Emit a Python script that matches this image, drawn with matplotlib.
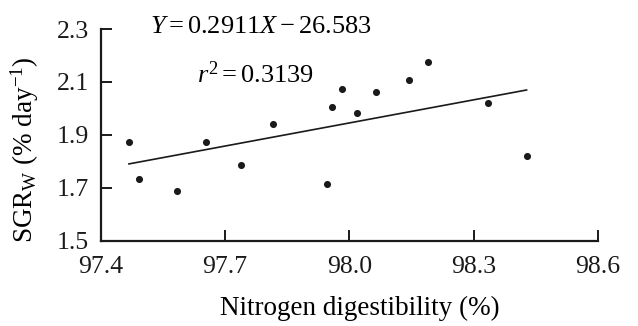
import matplotlib
matplotlib.use("Agg")
import matplotlib.pyplot as plt
import numpy as np

plt.rcParams['font.family'] = ['Liberation Serif', 'DejaVu Serif']
plt.rcParams['mathtext.fontset'] = 'custom'
plt.rcParams['mathtext.rm'] = 'Liberation Serif'
plt.rcParams['mathtext.it'] = 'Liberation Serif:italic'
plt.rcParams['mathtext.bf'] = 'Liberation Serif:bold'

# nitrogen digestibility (%) vs SGR_W (% day^-1)
n_dig = [97.468, 97.492, 97.583, 97.653, 97.739, 97.816, 97.945, 97.959,
         97.983, 98.018, 98.064, 98.144, 98.189, 98.334, 98.428]
sgr_w = [1.873, 1.733, 1.687, 1.873, 1.787, 1.940, 1.713, 2.006,
         2.073, 1.981, 2.061, 2.107, 2.174, 2.022, 1.820]

# regression reported on the chart
slope = 0.2911
intercept = -26.583
r2 = 0.3139

xticks = [97.4, 97.7, 98.0, 98.3, 98.6]
yticks = [1.5, 1.7, 1.9, 2.1, 2.3]

fig = plt.figure(figsize=(6.38, 3.26), dpi=100)
ax = fig.add_axes([0.158, 0.262, 0.779, 0.649])

ax.scatter(n_dig, sgr_w, s=26, color='#1a1a1a', zorder=3, linewidths=0)

xl = np.array([min(n_dig), max(n_dig)])
ax.plot(xl, slope * xl + intercept, color='#1a1a1a', lw=1.2)

ax.set_xlim(97.4, 98.6)
ax.set_ylim(1.5, 2.3)
ax.set_xticks(xticks)
ax.set_xticklabels(['%.1f' % v for v in xticks])
ax.set_yticks(yticks)
ax.set_yticklabels(['%.1f' % v for v in yticks])

for s in ['top', 'right']:
    ax.spines[s].set_visible(False)
for s in ['left', 'bottom']:
    ax.spines[s].set_linewidth(1.6)
    ax.spines[s].set_color('#1a1a1a')

ax.tick_params(direction='in', length=8, width=1.4, labelsize=18.5,
               colors='#1a1a1a')
ax.tick_params(axis='x', pad=11)
ax.tick_params(axis='y', pad=8.5)

ax.set_xlabel('Nitrogen digestibility (%)', fontsize=19.5)
ax.xaxis.set_label_coords(0.522, -0.262)
ax.set_ylabel(r'SGR$_\mathrm{W}$ (% day$^{-1}$)', fontsize=19.5)
ax.yaxis.set_label_coords(-0.12, 0.43)

ax.text(97.519, 2.285, r'$Y = %.4fX - %.3f$' % (slope, -intercept),
        fontsize=19, ha='left', va='baseline', clip_on=False)
ax.text(97.632, 2.096, r'$r^2 = %.4f$' % r2,
        fontsize=19, ha='left', va='baseline')

fig.savefig('out.png', dpi=100)
